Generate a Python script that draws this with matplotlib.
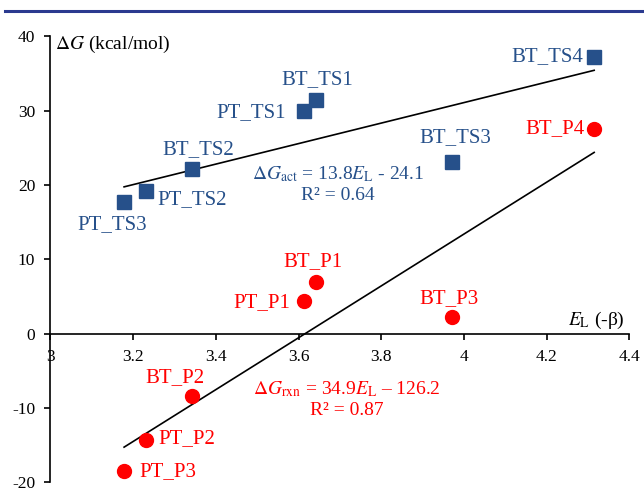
import matplotlib.pyplot as plt
import numpy as np
from matplotlib.lines import Line2D

plt.rcParams['font.family'] = ['Liberation Serif', 'DejaVu Serif']
plt.rcParams['mathtext.fontset'] = 'stix'
plt.rcParams['axes.unicode_minus'] = False

# 数据
names = ['PT_TS3', 'PT_TS2', 'BT_TS2', 'PT_TS1', 'BT_TS1', 'BT_TS3', 'BT_TS4']
names_p = ['PT_P3', 'PT_P2', 'BT_P2', 'PT_P1', 'BT_P1', 'BT_P3', 'BT_P4']
el = [3.178, 3.231, 3.342, 3.612, 3.641, 3.972, 4.315]
g_act = [17.7, 19.2, 22.15, 29.95, 31.4, 23.1, 37.2]
g_rxn = [-18.5, -14.3, -8.4, 4.4, 7.0, 2.2, 27.5]
fit_act = (13.8, -24.1)
fit_rxn = (34.9, -126.2)

blue = '#26508a'
red = '#ff0000'

# 标签偏移 (像素)
off_ts = [(-12, -22, 'center'), (11, -9, 'left'), (6, 19, 'center'), (-18, -1, 'right'),
          (2, 21, 'center'), (3, 24, 'center'), (-11, 1, 'right')]
off_p = [(15, -1, 'left'), (12, 1, 'left'), (-17, 18, 'center'), (-13, -2, 'right'),
         (-3, 20, 'center'), (-3, 19, 'center'), (-10, 1, 'right')]

fig = plt.figure(figsize=(6.44, 4.93), dpi=100)
ax = fig.add_axes([0.0784, 0.022, 0.8988, 0.904])

fig.add_artist(Line2D([0.008, 1.0], [1 - 11 / 493, 1 - 11 / 493], color='#2b3a8f', lw=2.2))

xs = np.array([min(el), max(el)])
ax.plot(xs, fit_act[0] * xs + fit_act[1], color='black', lw=1.2, zorder=2)
ax.plot(xs, fit_rxn[0] * xs + fit_rxn[1], color='black', lw=1.2, zorder=2)

ax.plot(el, g_act, 's', color=blue, ms=10, zorder=3)
ax.plot(el, g_rxn, 'o', color=red, ms=10, zorder=3)

for i in range(len(el)):
    dx, dy, ha = off_ts[i]
    ax.annotate(names[i], (el[i], g_act[i]), xytext=(dx, dy), textcoords='offset pixels',
                ha=ha, va='center', color=blue, fontsize=15)
    dx, dy, ha = off_p[i]
    ax.annotate(names_p[i], (el[i], g_rxn[i]), xytext=(dx, dy), textcoords='offset pixels',
                ha=ha, va='center', color=red, fontsize=15)

ax.text(3.695, 21.5, r'$\Delta G_{\mathrm{act}}$ = 13.8$E_{\mathrm{L}}$ - 24.1',
        ha='center', va='center', color=blue, fontsize=14)
ax.text(3.695, 18.6, 'R² = 0.64', ha='center', va='center', color=blue, fontsize=14)
ax.text(3.716, -7.5, r'$\Delta G_{\mathrm{rxn}}$ = 34.9$E_{\mathrm{L}}$ – 126.2',
        ha='center', va='center', color=red, fontsize=14)
ax.text(3.716, -10.4, 'R² = 0.87', ha='center', va='center', color=red, fontsize=14)

ax.text(3.011, 38.9, r'$\Delta G$ (kcal/mol)', ha='left', va='center', fontsize=14)
ax.text(4.39, 1.8, r'$E_{\mathrm{L}}$ (-β)', ha='right', va='center', fontsize=14)

ax.set_xlim(3, 4.4)
ax.set_ylim(-20, 40)
ax.set_xticks([3, 3.2, 3.4, 3.6, 3.8, 4, 4.2, 4.4])
ax.set_xticklabels(['3', '3.2', '3.4', '3.6', '3.8', '4', '4.2', '4.4'])
ax.set_yticks([-20, -10, 0, 10, 20, 30, 40])

ax.spines['top'].set_visible(False)
ax.spines['right'].set_visible(False)
ax.spines['bottom'].set_position(('data', 0))
ax.spines['left'].set_linewidth(1.2)
ax.spines['bottom'].set_linewidth(1.2)
ax.tick_params(axis='both', direction='out', length=4, width=1.2, labelsize=12.5, pad=7)
ax.patch.set_visible(False)

fig.savefig('out.png', dpi=100)
